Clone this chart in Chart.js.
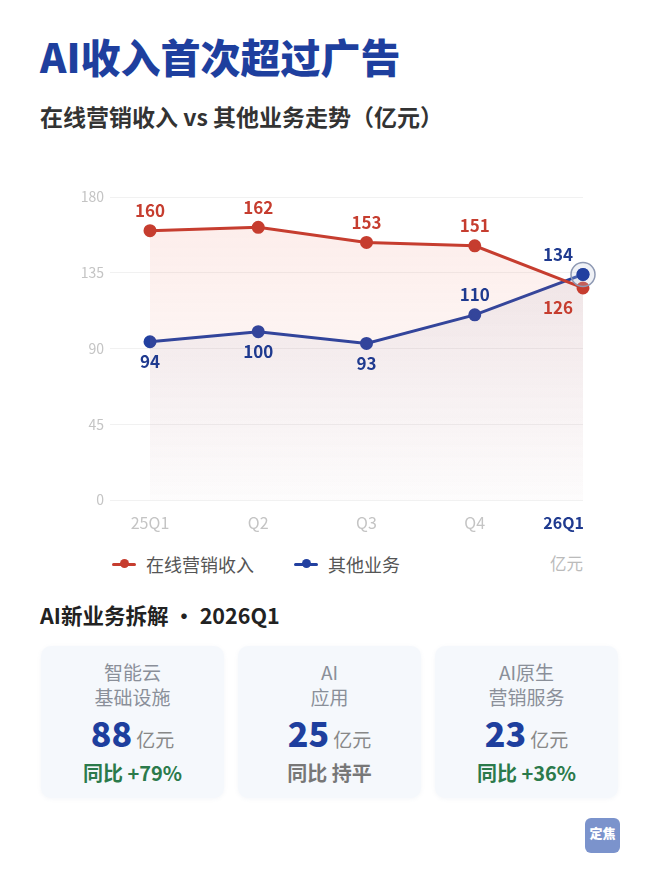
<!DOCTYPE html>
<html lang="zh">
<head>
<meta charset="utf-8">
<script src="https://cdn.jsdelivr.net/npm/chart.js@4.4.1/dist/chart.umd.min.js"></script>
<style>
  body { margin: 0; background: #fff; font-family: "Noto Sans CJK SC", "Noto Sans", sans-serif; }
  .page { position: relative; width: 660px; height: 880px; overflow: hidden; }
  .title { position: absolute; left: 40px; top: 32px; font-size: 40px; font-weight: 900; color: #1e3f9e; line-height: 1.2; }
  .subtitle { position: absolute; left: 40px; top: 102px; font-size: 23px; font-weight: 700; color: #333; line-height: 1.3; }
  .chart-box { position: absolute; left: 60px; top: 175px; width: 560px; height: 370px; }
  .legend { position: absolute; top: 551px; left: 112px; font-size: 18px; color: #555; display: flex; align-items: center; }
  .legend .item { display: flex; align-items: center; margin-right: 40px; }
  .legend .mark { position: relative; width: 24px; height: 3px; margin-right: 10px; border-radius: 2px; }
  .legend .mark::after { content: ""; position: absolute; left: 8px; top: -3.5px; width: 9px; height: 9px; border-radius: 50%; background: inherit; }
  .unit { position: absolute; top: 551px; left: 550px; font-size: 16.5px; color: #bbb; }
  .section { position: absolute; left: 40px; top: 599px; font-size: 21.5px; font-weight: 700; color: #222; }
  .cards { position: absolute; left: 41px; top: 646px; display: flex; gap: 14px; }
  .card { width: 183px; height: 152px; background: #f5f8fc; border-radius: 10px; box-shadow: 0 1px 4px rgba(120,140,180,0.08); text-align: center; box-sizing: border-box; padding-top: 13px; }
  .card .name { font-size: 19px; color: #8a8f99; line-height: 25px; }
  .card .val { margin-top: 5px; line-height: 38px; }
  .card .num { font-size: 34px; font-weight: 800; color: #1e3f9e; }
  .card .u { font-size: 19px; color: #888; margin-left: 4px; }
  .card .yoy { margin-top: 1px; font-size: 20px; font-weight: 700; line-height: 26px; }
  .logo { position: absolute; left: 585px; top: 818px; width: 35px; height: 35px; border-radius: 6px; background: #7b93cc; color: #fff; font-size: 13px; font-weight: 900; text-align: center; line-height: 30px; }
</style>
</head>
<body>
<div class="page">
  <div class="title">AI收入首次超过广告</div>
  <div class="subtitle">在线营销收入 vs 其他业务走势（亿元）</div>
  <div class="chart-box"><canvas id="trendChart"></canvas></div>
  <div class="legend" id="legend"></div>
  <div class="unit">亿元</div>
  <div class="section">AI新业务拆解 · 2026Q1</div>
  <div class="cards" id="cards"></div>
  <div class="logo">定焦</div>
</div>
<script>
// chart data
const quarters = ['25Q1', 'Q2', 'Q3', 'Q4', '26Q1'];
const marketingRevenue = [160, 162, 153, 151, 126];
const otherRevenue = [94, 100, 93, 110, 134];
const yTicks = [0, 45, 90, 135, 180];
// label placement: -1 above point, 1 below
const marketingLabelSide = [-1, -1, -1, -1, 1];
const otherLabelSide = [1, 1, 1, -1, -1];

// card data
const cardNames = [['智能云', '基础设施'], ['AI', '应用'], ['AI原生', '营销服务']];
const cardValues = [88, 25, 23];
const cardYoy = ['同比 +79%', '同比 持平', '同比 +36%'];

const RED = '#c63d2f';
const BLUE = '#2240a0';
const FONT = '"Noto Sans CJK SC", "Noto Sans", sans-serif';
const LAST = quarters.length - 1;

document.addEventListener('DOMContentLoaded', () => {
    // legend
    const legend = document.getElementById('legend');
    [['在线营销收入', RED], ['其他业务', BLUE]].forEach(([name, color]) => {
        legend.insertAdjacentHTML('beforeend',
            `<div class="item"><span class="mark" style="background:${color}"></span>${name}</div>`);
    });

    // cards
    const cards = document.getElementById('cards');
    cardNames.forEach((lines, i) => {
        const yoyColor = cardYoy[i].includes('+') ? '#2b7a4b' : '#777';
        cards.insertAdjacentHTML('beforeend', `
            <div class="card">
                <div class="name">${lines[0]}<br>${lines[1]}</div>
                <div class="val"><span class="num">${cardValues[i]}</span><span class="u">亿元</span></div>
                <div class="yoy" style="color:${yoyColor}">${cardYoy[i]}</div>
            </div>`);
    });

    const ctx = document.getElementById('trendChart').getContext('2d');

    function areaGradient(chart, top, bottom) {
        const { ctx, chartArea } = chart;
        if (!chartArea) return top;
        const g = ctx.createLinearGradient(0, chartArea.top, 0, chartArea.bottom);
        g.addColorStop(0, top);
        g.addColorStop(1, bottom);
        return g;
    }

    // value labels, highlight ring on last point, right-aligned last quarter label
    const valueLabels = {
        id: 'valueLabels',
        afterDatasetsDraw(chart) {
            const c = chart.ctx;
            const sides = [marketingLabelSide, otherLabelSide];
            const colors = [RED, '#1f3a8f'];
            // ring around latest 其他业务 point
            const last = chart.getDatasetMeta(1).data[LAST];
            c.save();
            c.beginPath();
            c.arc(last.x, last.y, 12, 0, Math.PI * 2);
            c.fillStyle = 'rgba(190,200,220,0.25)';
            c.fill();
            c.lineWidth = 1.5;
            c.strokeStyle = '#8e99b3';
            c.stroke();
            c.beginPath();
            c.arc(last.x, last.y, 6.5, 0, Math.PI * 2);
            c.fillStyle = BLUE;
            c.fill();

            c.font = `700 17px ${FONT}`;
            c.textAlign = 'center';
            c.textBaseline = 'middle';
            chart.data.datasets.forEach((ds, di) => {
                chart.getDatasetMeta(di).data.forEach((pt, i) => {
                    const dx = i === LAST ? -25 : 0;
                    c.fillStyle = colors[di];
                    c.fillText(ds.data[i], pt.x + dx, pt.y + sides[di][i] * 20);
                });
            });

            // latest quarter tick, right edge on its point
            const xs = chart.scales.x;
            c.font = `700 16px ${FONT}`;
            c.textAlign = 'right';
            c.fillStyle = '#1f3a8f';
            c.fillText(quarters[LAST], xs.getPixelForTick(LAST) + 1, chart.chartArea.bottom + 23);
            c.restore();
        }
    };

    new Chart(ctx, {
        type: 'line',
        data: {
            labels: quarters,
            datasets: [{
                label: '在线营销收入',
                data: marketingRevenue,
                borderColor: RED,
                backgroundColor: (c) => areaGradient(c.chart, 'rgba(235,120,100,0.14)', 'rgba(235,120,100,0.01)'),
                pointBackgroundColor: RED,
                pointBorderColor: RED,
                borderWidth: 3,
                pointRadius: 5,
                fill: 'origin',
                tension: 0
            }, {
                label: '其他业务',
                data: otherRevenue,
                borderColor: BLUE,
                backgroundColor: (c) => areaGradient(c.chart, 'rgba(90,100,150,0.11)', 'rgba(90,100,150,0.01)'),
                pointBackgroundColor: BLUE,
                pointBorderColor: BLUE,
                borderWidth: 3,
                pointRadius: 5,
                fill: 'origin',
                tension: 0
            }]
        },
        options: {
            responsive: true,
            maintainAspectRatio: false,
            animation: false,
            clip: false,
            layout: { padding: { top: 22, right: 37, left: 0, bottom: 0 } },
            plugins: {
                legend: { display: false },
                tooltip: { enabled: false }
            },
            scales: {
                x: {
                    grid: { display: false, drawTicks: false },
                    border: { display: false },
                    afterFit: (s) => { s.height = 45; },
                    ticks: {
                        padding: 13,
                        font: { family: FONT, size: 16 },
                        color: (c) => c.index === LAST ? 'rgba(0,0,0,0)' : '#c4c4c4'
                    }
                },
                y: {
                    min: yTicks[0],
                    max: yTicks[yTicks.length - 1],
                    afterBuildTicks: (s) => { s.ticks = yTicks.map(v => ({ value: v })); },
                    afterFit: (s) => { s.width = 90; },
                    grid: { color: '#f1f1f1', lineWidth: 1, tickLength: 40 },
                    border: { display: false },
                    ticks: {
                        padding: 6,
                        font: { family: FONT, size: 14 },
                        color: '#c4c4c4'
                    }
                }
            }
        },
        plugins: [valueLabels]
    });
});
</script>
</body>
</html>
